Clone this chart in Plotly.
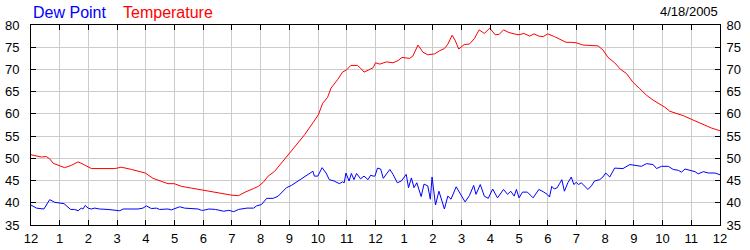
import plotly.graph_objects as go

# ---- data (hours after midnight, values in deg F) ----
temp_hours = [0, 0.19, 0.36, 0.53, 0.65, 0.77, 1.0, 1.17, 1.4, 1.64, 1.81, 2.1, 2.92, 3.15, 3.5, 3.73,
              3.98, 4.25, 4.54, 4.77, 4.99, 5.24, 5.59, 6.0, 6.31, 6.6, 6.83, 7.0, 7.23, 7.46, 7.75,
              7.92, 8.09, 8.26, 8.49, 8.78, 9.01, 9.24, 9.53, 9.82, 10.01, 10.16, 10.33, 10.45, 10.68,
              10.85, 10.99, 11.14, 11.37, 11.48, 11.6, 11.77, 11.92, 12.0, 12.15, 12.38, 12.61, 12.79,
              12.92, 13.19, 13.3, 13.48, 13.65, 13.82, 14.06, 14.23, 14.4, 14.52, 14.67, 14.77, 14.9,
              15.09, 15.27, 15.44, 15.61, 15.79, 15.98, 16.17, 16.31, 16.46, 16.65, 16.83, 17.0, 17.17,
              17.37, 17.52, 17.69, 17.84, 18.0, 18.23, 18.41, 18.64, 18.82, 18.99, 19.22, 19.52, 19.75,
              19.92, 20.1, 20.33, 20.54, 20.74, 20.97, 21.2, 21.44, 21.67, 21.9, 22.08, 22.25, 22.49,
              22.72, 23.0, 23.24, 23.48, 23.71, 24.0]
temp_values = [50.8, 50.5, 50.3, 50.4, 49.9, 48.9, 48.3, 47.9, 48.4, 49.2, 48.7, 47.7, 47.7, 48.0, 47.5, 47.2,
               46.7, 45.5, 44.8, 44.3, 44.3, 43.7, 43.3, 42.8, 42.5, 42.2, 41.9, 41.7, 41.6, 42.4, 43.2,
               43.7, 44.6, 46.0, 47.1, 49.4, 51.2, 52.9, 55.3, 58.0, 59.8, 62.4, 63.7, 65.8, 67.7,
               69.4, 69.9, 70.9, 70.9, 70.3, 69.4, 69.9, 70.4, 71.5, 71.2, 71.7, 71.5, 72.0,
               72.7, 72.5, 73.0, 75.5, 73.9, 73.3, 73.5, 74.2, 74.7, 75.7, 77.7, 76.6, 74.6,
               75.6, 75.7, 76.9, 78.9, 78.1, 79.3, 77.8, 77.9, 78.9, 78.3, 78.0, 77.8, 78.1,
               77.5, 78.0, 77.5, 77.4, 78.0, 77.4, 76.8, 76.1, 76.1, 76.0, 75.5, 75.4, 75.3,
               74.4, 72.7, 71.5, 70.0, 69.1, 67.1, 65.7, 64.2, 63.1, 62.2, 61.5, 60.6, 60.1,
               59.6, 58.8, 58.1, 57.4, 56.8, 56.2]

dew_hours = [0, 0.19, 0.45, 0.65, 0.83, 1.0, 1.15, 1.38, 1.52, 1.64, 1.75, 1.81, 1.89, 1.99, 2.1, 2.22,
             2.39, 2.68, 2.97, 3.09, 3.21, 3.38, 3.73, 3.9, 4.02, 4.19, 4.37, 4.48, 4.77, 4.89, 5.0,
             5.18, 5.35, 5.59, 5.82, 5.94, 6.0, 6.2, 6.43, 6.71, 6.89, 7.06, 7.23, 7.52, 7.75, 7.86,
             8.03, 8.21, 8.44, 8.61, 8.9, 9.07, 9.3, 9.53, 9.82, 9.87, 9.99, 10.14, 10.28, 10.39,
             10.56, 10.74, 10.85, 10.91, 10.97, 11.08, 11.16, 11.25, 11.34, 11.48, 11.6, 11.74, 11.83,
             11.92, 11.98, 12.07, 12.18, 12.27, 12.38, 12.5, 12.61, 12.76, 12.9, 13.07, 13.15, 13.25,
             13.34, 13.44, 13.59, 13.69, 13.82, 13.91, 13.97, 14.09, 14.21, 14.31, 14.4, 14.52, 14.63,
             14.81, 14.98, 15.12, 15.27, 15.42, 15.5, 15.65, 15.79, 15.93, 16.08, 16.25, 16.46, 16.6,
             16.71, 16.83, 16.91, 17.0, 17.12, 17.29, 17.49, 17.69, 17.84, 17.98, 18.06, 18.14, 18.23,
             18.33, 18.41, 18.49, 18.58, 18.7, 18.82, 18.91, 18.99, 19.07, 19.17, 19.26, 19.4, 19.52,
             19.63, 19.81, 19.92, 20.02, 20.16, 20.33, 20.51, 20.62, 20.86, 21.03, 21.26, 21.44,
             21.67, 21.79, 21.96, 22.2, 22.37, 22.55, 22.66, 22.78, 22.95, 23.13, 23.24, 23.42,
             23.59, 23.83, 24.0]
dew_values = [39.5, 38.8, 38.6, 40.7, 40.1, 39.9, 39.8, 38.5, 38.5, 38.2, 38.8, 38.6, 39.4, 38.8, 38.6, 38.8,
              38.6, 38.5, 38.4, 38.2, 38.6, 38.6, 38.6, 38.8, 39.3, 38.7, 38.8, 38.5, 38.6, 38.4, 38.7,
              39.1, 38.8, 38.7, 38.6, 38.3, 38.3, 38.6, 38.5, 38.1, 38.3, 38.0, 38.5, 38.8, 38.8, 39.3,
              39.6, 41.0, 41.0, 41.5, 43.4, 43.9, 44.9, 45.8, 47.1, 46.0, 46.0, 47.9, 46.7, 45.2,
              44.9, 44.3, 44.7, 44.5, 46.7, 44.9, 46.6, 45.2, 46.6, 45.4, 46.0, 45.2, 46.2,
              46.0, 46.0, 47.8, 47.6, 45.5, 46.6, 47.5, 46.4, 44.5, 44.9, 46.4, 43.4, 45.6,
              43.4, 44.5, 41.4, 44.2, 43.8, 40.8, 45.8, 39.5, 42.6, 40.4, 38.6, 41.5, 40.8,
              43.6, 41.9, 40.2, 41.6, 43.9, 41.9, 44.1, 41.5, 41.0, 43.1, 41.1, 43.0, 41.9,
              42.6, 41.5, 43.0, 41.1, 42.4, 42.4, 41.1, 43.0, 42.5, 41.9, 41.3, 43.7, 43.1,
              43.4, 44.3, 45.2, 42.6, 44.5, 45.8, 44.1, 44.6, 44.1, 44.5, 44.0, 43.0, 43.8,
              44.9, 45.2, 45.8, 46.7, 45.8, 47.8, 47.7, 47.7, 48.6, 48.5, 48.2, 48.8,
              48.6, 47.7, 48.2, 48.2, 47.5, 47.3, 46.9, 47.6, 47.3, 47.0, 46.5, 47.0,
              46.7, 46.7, 46.3]

hour_ticks = list(range(0, 25))
hour_labels = ["12", "1", "2", "3", "4", "5", "6", "7", "8", "9", "10", "11",
               "12", "1", "2", "3", "4", "5", "6", "7", "8", "9", "10", "11", "12"]
y_ticks = [35, 40, 45, 50, 55, 60, 65, 70, 75, 80]

series_names = ["Dew Point", "Temperature"]
date_label = "4/18/2005"

FONT = "Liberation Sans, Arial, sans-serif"

fig = go.Figure()
fig.add_trace(go.Scatter(x=dew_hours, y=dew_values, mode="lines", name=series_names[0],
                         line=dict(color="#0000FF", width=1), yaxis="y"))
fig.add_trace(go.Scatter(x=temp_hours, y=temp_values, mode="lines", name=series_names[1],
                         line=dict(color="#FF0000", width=1), yaxis="y2"))

axis_common = dict(showline=True, linecolor="black", linewidth=1, ticks="inside", ticklen=5,
                   tickcolor="black", tickfont=dict(family=FONT, size=13, color="black"),
                   zeroline=False, fixedrange=True, automargin=False)

fig.update_layout(
    width=750, height=250,
    margin=dict(l=31, r=30, t=25, b=25, autoexpand=False),
    paper_bgcolor="white", plot_bgcolor="white",
    showlegend=False,
    xaxis=dict(range=[0, 24], tickvals=hour_ticks, ticktext=hour_labels, mirror="ticks",
               showgrid=True, gridcolor="#CCCCCC", gridwidth=1, ticklabelstandoff=1, **axis_common),
    yaxis=dict(range=[35, 80], tickvals=y_ticks, mirror=True, showgrid=True,
               gridcolor="#CCCCCC", gridwidth=1, ticklabelstandoff=8, **axis_common),
    yaxis2=dict(range=[35, 80], tickvals=y_ticks, overlaying="y", side="right", showgrid=False,
                ticklabelstandoff=3, **axis_common),
    annotations=[
        dict(text=series_names[0], xref="paper", yref="paper", x=0, y=1, xanchor="left",
             yanchor="bottom", showarrow=False, yshift=2,
             font=dict(family=FONT, size=16, color="#0000FF")),
        dict(text=series_names[1], xref="paper", yref="paper", x=90 / 689, y=1, xanchor="left",
             yanchor="bottom", showarrow=False, yshift=2,
             font=dict(family=FONT, size=16, color="#FF0000")),
        dict(text=date_label, xref="paper", yref="paper", x=1, y=1, xanchor="right",
             yanchor="bottom", showarrow=False, yshift=4,
             font=dict(family=FONT, size=13, color="black")),
    ],
)

fig.write_html("out.html")
